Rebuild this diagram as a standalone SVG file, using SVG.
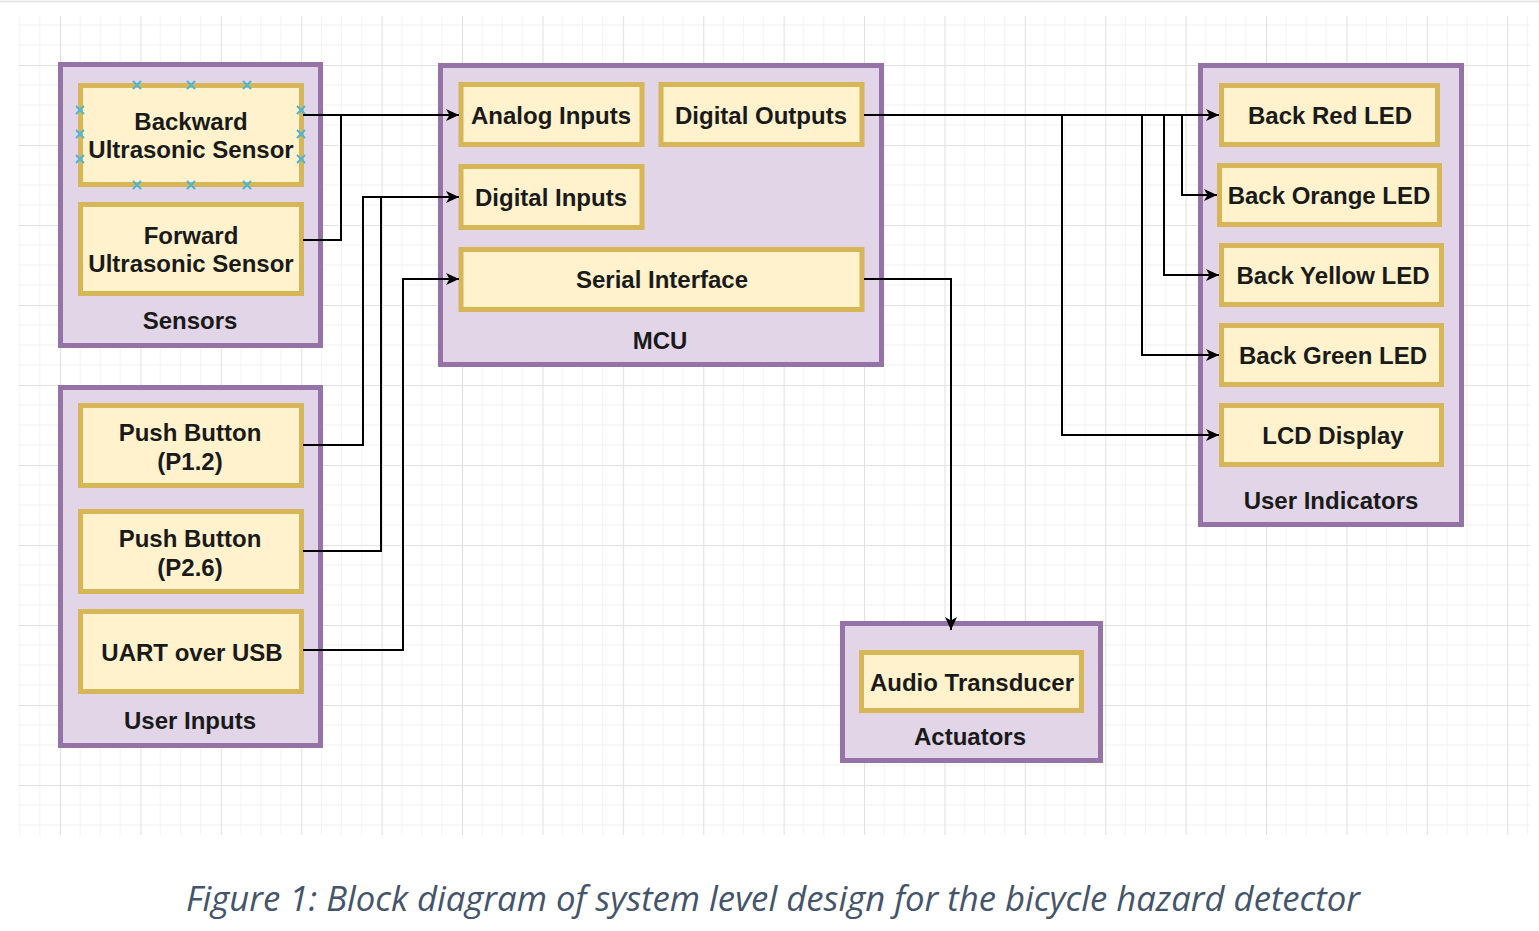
<svg xmlns="http://www.w3.org/2000/svg" width="1539" height="931" viewBox="0 0 1539 931">
<style>
.grp{fill:#e1d5e7;stroke:#9673a6;stroke-width:5}
.box{fill:#fff2cc;stroke:#d6b656;stroke-width:5}
.t{font-family:"Liberation Sans",Arial,sans-serif;font-size:24px;font-weight:bold;fill:#1a1a1a;text-anchor:middle;dominant-baseline:central}
.wire{fill:none;stroke:#000;stroke-width:2}
.arr{marker-end:url(#ah)}
.cx{stroke:#4bb5d8;stroke-width:2;fill:none}
.cap{font-family:"Open Sans","Noto Sans","Liberation Sans",sans-serif;font-style:italic;font-size:34px;fill:#44546a;text-anchor:middle}
</style>
<defs>
<pattern id="grid" x="60" y="65" width="80.4" height="80" patternUnits="userSpaceOnUse">
<path d="M20.1 0V80M40.2 0V80M60.3 0V80M0 20H80.4M0 40H80.4M0 60H80.4" stroke="#f2f2f2" stroke-width="1" fill="none"/>
<path d="M0.5 0V80M0 0.5H80.4" stroke="#e2e2e2" stroke-width="1.2" fill="none"/>
</pattern>
<marker id="ah" markerWidth="13" markerHeight="12" refX="13" refY="6" orient="auto" markerUnits="userSpaceOnUse">
<path d="M0,0 L13,6 L0,12 L3.5,6 Z" fill="#000"/>
</marker>
</defs>
<rect width="1539" height="931" fill="#fff"/>
<line x1="0" y1="1.5" x2="1539" y2="1.5" stroke="#e0e0e0" stroke-width="1.5"/>
<rect x="18" y="16" width="1512" height="819" fill="url(#grid)"/>

<g id="sensors">
<rect class="grp" x="60.5" y="64.5" width="260" height="281"/>
<text class="t" x="190" y="320">Sensors</text>
</g>
<g id="backward-sensor">
<rect class="box" x="80.5" y="85.5" width="221" height="99"/>
<text class="t" x="191" y="121">Backward</text>
<text class="t" x="191" y="149">Ultrasonic Sensor</text>
<path class="cx" d="M133 81l8 8M141 81l-8 8M187 81l8 8M195 81l-8 8M243 81l8 8M251 81l-8 8M133 181l8 8M141 181l-8 8M187 181l8 8M195 181l-8 8M243 181l8 8M251 181l-8 8M76 106l8 8M84 106l-8 8M76 130l8 8M84 130l-8 8M76 155l8 8M84 155l-8 8M297 106l8 8M305 106l-8 8M297 130l8 8M305 130l-8 8M297 155l8 8M305 155l-8 8"/>
</g>
<g id="forward-sensor">
<rect class="box" x="80.5" y="204.5" width="221" height="89"/>
<text class="t" x="191" y="235">Forward</text>
<text class="t" x="191" y="263">Ultrasonic Sensor</text>
</g>

<g id="user-inputs">
<rect class="grp" x="60.5" y="387.5" width="260" height="358"/>
<text class="t" x="190" y="720">User Inputs</text>
</g>
<g id="push-button-p12">
<rect class="box" x="80.5" y="405.5" width="221" height="80"/>
<text class="t" x="190" y="432">Push Button</text>
<text class="t" x="190" y="461">(P1.2)</text>
</g>
<g id="push-button-p26">
<rect class="box" x="80.5" y="511.5" width="221" height="80"/>
<text class="t" x="190" y="538">Push Button</text>
<text class="t" x="190" y="567">(P2.6)</text>
</g>
<g id="uart-usb">
<rect class="box" x="80.5" y="611.5" width="221" height="80"/>
<text class="t" x="192" y="652">UART over USB</text>
</g>

<g id="mcu">
<rect class="grp" x="440.5" y="65.5" width="441" height="299"/>
<text class="t" x="660" y="340">MCU</text>
</g>
<g id="analog-inputs">
<rect class="box" x="461" y="84.5" width="181" height="60"/>
<text class="t" x="551" y="115">Analog Inputs</text>
</g>
<g id="digital-outputs">
<rect class="box" x="661" y="84.5" width="201" height="60"/>
<text class="t" x="761" y="115">Digital Outputs</text>
</g>
<g id="digital-inputs">
<rect class="box" x="461" y="166.5" width="181" height="61"/>
<text class="t" x="551" y="197">Digital Inputs</text>
</g>
<g id="serial-interface">
<rect class="box" x="461" y="249.5" width="401" height="60"/>
<text class="t" x="662" y="279">Serial Interface</text>
</g>

<g id="user-indicators">
<rect class="grp" x="1200.5" y="65.5" width="261" height="459"/>
<text class="t" x="1331" y="500">User Indicators</text>
</g>
<g id="back-red-led">
<rect class="box" x="1221.5" y="85.5" width="216" height="59"/>
<text class="t" x="1330" y="115">Back Red LED</text>
</g>
<g id="back-orange-led">
<rect class="box" x="1219.5" y="165.5" width="220" height="59"/>
<text class="t" x="1329" y="195">Back Orange LED</text>
</g>
<g id="back-yellow-led">
<rect class="box" x="1221.5" y="245.5" width="220" height="59"/>
<text class="t" x="1333" y="275">Back Yellow LED</text>
</g>
<g id="back-green-led">
<rect class="box" x="1221.5" y="325.5" width="220" height="59"/>
<text class="t" x="1333" y="355">Back Green LED</text>
</g>
<g id="lcd-display">
<rect class="box" x="1221.5" y="405.5" width="220" height="59"/>
<text class="t" x="1333" y="435">LCD Display</text>
</g>

<g id="actuators">
<rect class="grp" x="842.5" y="623.5" width="258" height="137"/>
<text class="t" x="970" y="736">Actuators</text>
</g>
<g id="audio-transducer">
<rect class="box" x="861.5" y="652.5" width="220" height="58"/>
<text class="t" x="972" y="682">Audio Transducer</text>
</g>

<g id="connectors">
<path class="wire arr" d="M303 115H459"/>
<path class="wire" d="M303 240H341V115"/>
<path class="wire arr" d="M303 445H363V197H459"/>
<path class="wire" d="M303 551H381V197"/>
<path class="wire arr" d="M303 650H403V279H459"/>
<path class="wire arr" d="M864 279H951V630"/>
<path class="wire arr" d="M864 115H1219"/>
<path class="wire arr" d="M1182 115V195H1217"/>
<path class="wire arr" d="M1164 115V275H1219"/>
<path class="wire arr" d="M1142 115V355H1219"/>
<path class="wire arr" d="M1062 115V435H1219"/>
</g>

<text class="cap" x="773" y="911" textLength="1174" lengthAdjust="spacingAndGlyphs">Figure 1: Block diagram of system level design for the bicycle hazard detector</text>
</svg>
